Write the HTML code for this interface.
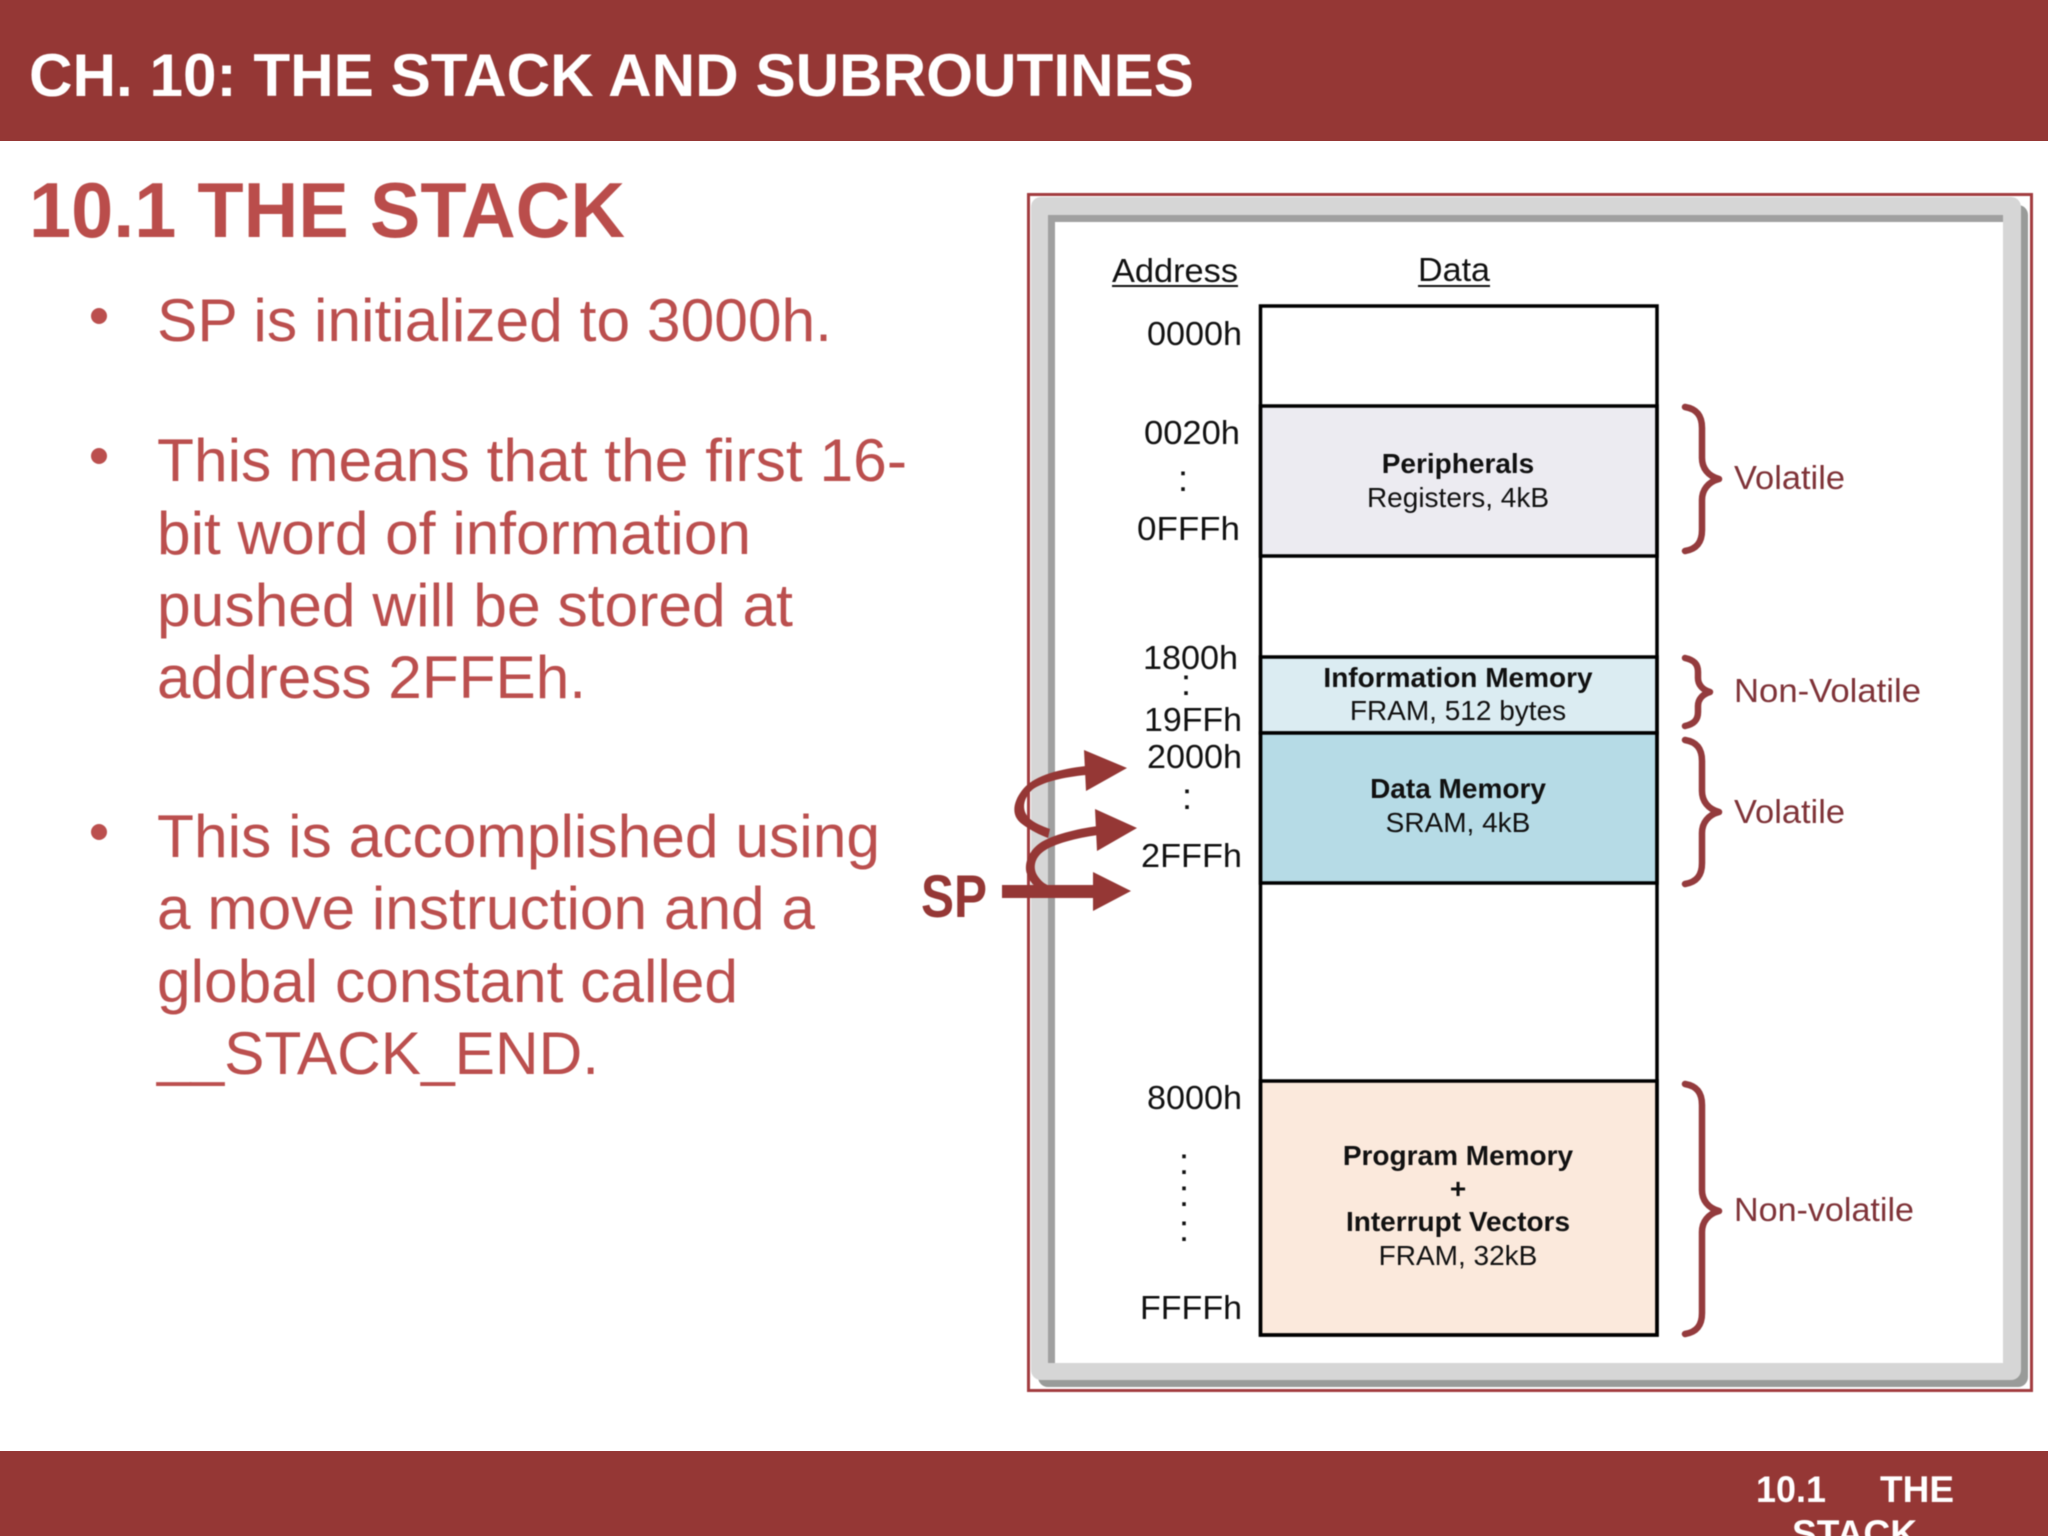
<!DOCTYPE html>
<html><head><meta charset="utf-8"><style>
html,body{margin:0;padding:0;background:#fff;width:2048px;height:1536px;overflow:hidden}
svg{display:block}
text{font-family:"Liberation Sans",Arial,sans-serif}
</style></head><body>
<svg width="2048" height="1536" viewBox="0 0 2048 1536" xmlns="http://www.w3.org/2000/svg">
<rect width="2048" height="1536" fill="#fff"/>
<rect x="0" y="0" width="2048" height="141" fill="#953735"/>
<rect x="0" y="1451" width="2048" height="85" fill="#953735"/>
<g style="filter:blur(.45px)">
<text x="29" y="96" font-size="60" font-weight="700" fill="#fff" textLength="1165" lengthAdjust="spacingAndGlyphs">CH. 10: THE STACK AND SUBROUTINES</text>
<text x="29" y="237" font-size="78" font-weight="700" fill="#ba4d4b" textLength="596" lengthAdjust="spacingAndGlyphs">10.1 THE STACK</text>
<g font-size="60" fill="#bb4f4e">
<circle cx="99" cy="316" r="8"/><circle cx="99" cy="456" r="8"/><circle cx="99" cy="832" r="8"/>
<text x="157" y="341" textLength="675" lengthAdjust="spacingAndGlyphs">SP is initialized to 3000h.</text>
<text x="157" y="481" textLength="750" lengthAdjust="spacingAndGlyphs">This means that the first 16-</text>
<text x="157" y="554" textLength="594" lengthAdjust="spacingAndGlyphs">bit word of information</text>
<text x="157" y="626" textLength="636" lengthAdjust="spacingAndGlyphs">pushed will be stored at</text>
<text x="157" y="698" textLength="429" lengthAdjust="spacingAndGlyphs">address 2FFEh.</text>
<text x="157" y="857" textLength="723" lengthAdjust="spacingAndGlyphs">This is accomplished using</text>
<text x="157" y="929" textLength="658" lengthAdjust="spacingAndGlyphs">a move instruction and a</text>
<text x="157" y="1002" textLength="581" lengthAdjust="spacingAndGlyphs">global constant called</text>
<text x="157" y="1074" textLength="442" lengthAdjust="spacingAndGlyphs">__STACK_END.</text>
</g>
<rect x="1028.5" y="194.5" width="1003" height="1196" fill="none" stroke="#a23c3f" stroke-width="3"/>
<rect x="1038" y="205" width="990" height="1182" rx="10" fill="#999b99"/>
<rect x="1031" y="197" width="990" height="1183" rx="10" fill="#d6d6d6"/>
<rect x="1048" y="215" width="955" height="148" fill="#a0a0a0"/>
<rect x="1048" y="215" width="7" height="1148" fill="#a0a0a0"/>
<rect x="1055" y="222" width="948" height="1141" fill="#fff"/>
<g stroke="#000" stroke-width="3.5">
<rect x="1260.5" y="406" width="396.5" height="150" fill="#ecebf1"/>
<rect x="1260.5" y="657" width="396.5" height="76" fill="#dbecf2"/>
<rect x="1260.5" y="733" width="396.5" height="150" fill="#b6dbe6"/>
<rect x="1260.5" y="1081" width="396.5" height="254" fill="#fbe9dc"/>
<rect x="1260.5" y="306" width="396.5" height="1029" fill="none"/>
</g>
<g font-size="33" fill="#111">
<text x="1112" y="282" textLength="126" lengthAdjust="spacingAndGlyphs">Address</text>
<rect x="1112" y="285" width="126" height="2" fill="#111"/>
<text x="1418" y="281" textLength="72" lengthAdjust="spacingAndGlyphs">Data</text>
<rect x="1418" y="285" width="72" height="2" fill="#111"/>
<text x="1147" y="345" textLength="95" lengthAdjust="spacingAndGlyphs">0000h</text>
<text x="1144" y="444" textLength="96" lengthAdjust="spacingAndGlyphs">0020h</text>
<text x="1137" y="540" textLength="103" lengthAdjust="spacingAndGlyphs">0FFFh</text>
<text x="1143" y="669" textLength="95" lengthAdjust="spacingAndGlyphs">1800h</text>
<text x="1144" y="731" textLength="98" lengthAdjust="spacingAndGlyphs">19FFh</text>
<text x="1147" y="768" textLength="95" lengthAdjust="spacingAndGlyphs">2000h</text>
<text x="1141" y="867" textLength="101" lengthAdjust="spacingAndGlyphs">2FFFh</text>
<text x="1147" y="1109" textLength="95" lengthAdjust="spacingAndGlyphs">8000h</text>
<text x="1140" y="1319" textLength="102" lengthAdjust="spacingAndGlyphs">FFFFh</text>
</g>
<g font-size="37" fill="#111" text-anchor="middle">
<text x="1183" y="491">:</text>
<text x="1186" y="695">:</text>
<text x="1187" y="809">:</text>
<text x="1184" y="1174">:</text>
<text x="1184" y="1206">:</text>
<text x="1184" y="1241">:</text>
</g>
<g font-size="28" fill="#111" text-anchor="middle">
<text x="1458" y="473" font-weight="700">Peripherals</text>
<text x="1458" y="507">Registers, 4kB</text>
<text x="1458" y="687" font-weight="700">Information Memory</text>
<text x="1458" y="720">FRAM, 512 bytes</text>
<text x="1458" y="798" font-weight="700">Data Memory</text>
<text x="1458" y="832">SRAM, 4kB</text>
<text x="1458" y="1165" font-weight="700">Program Memory</text>
<text x="1458" y="1198" font-weight="700">+</text>
<text x="1458" y="1231" font-weight="700">Interrupt Vectors</text>
<text x="1458" y="1265">FRAM, 32kB</text>
</g>
<g fill="none" stroke="#943b3d" stroke-width="6.5" stroke-linecap="round" stroke-linejoin="round">
<path d="M1685 407C1697 409 1702 416 1702 428V458C1702 468 1708 476 1719 479C1708 482 1702 490 1702 500V530C1702 542 1697 549 1685 551"/>
<path d="M1685 658C1694 660 1698 664 1698 672V678C1698 685 1703 690 1710 692C1703 694 1698 699 1698 706V712C1698 720 1694 724 1685 726"/>
<path d="M1685 740C1697 742 1702 749 1702 761V791C1702 801 1708 809 1719 812C1708 815 1702 823 1702 833V863C1702 875 1697 882 1685 884"/>
<path d="M1685 1084C1697 1086 1702 1093 1702 1105V1190C1702 1200 1708 1208 1719 1211C1708 1214 1702 1222 1702 1232V1313C1702 1325 1697 1332 1685 1334"/>
</g>
<g font-size="33" fill="#7f3338">
<text x="1734" y="489" textLength="111" lengthAdjust="spacingAndGlyphs">Volatile</text>
<text x="1734" y="702" textLength="187" lengthAdjust="spacingAndGlyphs">Non-Volatile</text>
<text x="1734" y="823" textLength="111" lengthAdjust="spacingAndGlyphs">Volatile</text>
<text x="1734" y="1221" textLength="180" lengthAdjust="spacingAndGlyphs">Non-volatile</text>
</g>
<text x="921" y="917" font-size="60" font-weight="700" fill="#953735" textLength="66" lengthAdjust="spacingAndGlyphs">SP</text>
<g fill="#953735">
<rect x="1002" y="885" width="92" height="13"/>
<path d="M1093 872L1131 891L1093 911Z"/>
<path d="M1095 809L1137 828L1097 851Z"/>
<path d="M1084 750L1127 768L1086 791Z"/>
<path d="M1086 766C1060 769 1036 775 1024 788C1012 802 1011 816 1022 824C1030 830 1040 835 1048 838L1050 829C1042 826 1034 823 1029 818C1022 811 1022 800 1032 790C1042 782 1064 777 1086 775Z"/>
<path d="M1098 826C1076 829 1052 835 1040 843C1027 852 1024 866 1027 874C1029 880 1032 884 1036 887L1050 886C1044 884 1040 880 1037 875C1033 868 1034 858 1044 851C1054 844 1076 838 1098 835Z"/>
</g>
<g font-size="37" font-weight="700" fill="#fff">
<text x="1756" y="1502" textLength="70" lengthAdjust="spacingAndGlyphs">10.1</text>
<text x="1880" y="1502" textLength="74" lengthAdjust="spacingAndGlyphs">THE</text>
<text x="1792" y="1546" textLength="125" lengthAdjust="spacingAndGlyphs">STACK</text>
</g>
</g>
</svg>
</body></html>
